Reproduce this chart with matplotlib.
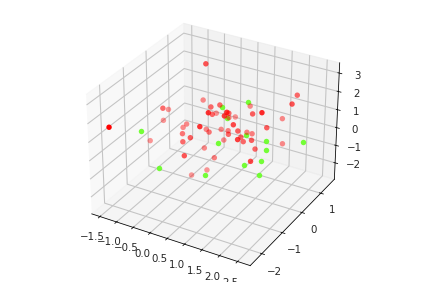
import matplotlib
matplotlib.use("Agg")
import matplotlib.pyplot as plt

red_x = [-0.16,-0.37,-1.07,-1.57,-1.60,-1.37,-1.62,-0.88,-0.99,-0.62,-0.06,-0.48,0.92,-0.28,0.18,1.16,-0.34,
         2.67,2.75,1.02,0.62,0.36,0.40,-0.10,1.61,1.42,0.88,0.58,0.47,1.73,2.33,1.95,1.49,2.13,
         0.17,0.56,0.87,1.32,1.11,1.26,1.23,1.79,0.25,1.30,1.71,1.97,1.64,0.15,-0.05,1.98,-0.42,-0.20]
red_y = [0.30,0.50,-0.30,0.70,0.50,-2.20,-0.10,0.50,0.50,-0.10,-0.60,-0.30,-1.70,0.50,-0.10,-1.70,0.50,
         -0.10,-0.50,0.50,-0.30,-0.30,-0.30,0.70,-1.60,-1.40,-0.30,0.20,0.70,-0.60,-1.20,0.50,-1.10,-0.60,
         0.50,0.20,-0.30,-0.60,0.20,0.20,-0.30,-1.40,0.50,-0.30,-0.60,0.50,-0.30,0.20,-0.90,-1.10,0.00,0.40]
red_z = [3.34,1.07,1.02,-0.27,-0.72,1.68,-1.30,-0.55,-0.80,-0.36,0.22,-0.54,2.44,-0.53,0.16,3.29,-1.63,
         3.45,3.41,1.45,2.07,1.83,1.45,0.28,3.45,2.97,1.76,0.88,0.37,2.46,3.42,1.25,2.25,1.94,
         -0.29,0.14,0.61,1.33,0.35,0.35,0.65,1.93,-0.85,0.44,1.04,-0.12,0.22,-1.61,-0.47,0.57,-2.72,-2.72]
red_alpha = [.75,.5,.65,.45,.45,1.0,.45,.5,.5,.6,.7,.65,.9,.5,.6,.9,.5,
             .65,.75,.5,.65,.65,.65,.45,.9,.85,.65,.55,.45,.7,.95,.5,.8,.7,
             .5,.55,.65,.7,.55,.55,.65,.85,.5,.65,.7,.5,.65,.55,.75,.8,.45,.45]

green_x = [-1.61,1.31,0.55,0.70,1.26,0.45,1.83,2.71,1.85,1.69,1.22,-1.36,0.04,1.65]
green_y = [-0.50,-0.10,-0.10,-0.10,-0.10,-0.10,-0.10,0.20,-0.10,-0.10,-0.10,-0.10,-0.10,-0.10]
green_z = [-0.33,2.41,1.73,1.20,0.57,-0.32,0.58,0.67,0.06,-0.63,-1.11,-2.74,-2.36,-1.42]

x_ticks = [-1.5, -1.0, -0.5, 0.0, 0.5, 1.0, 1.5, 2.0, 2.5]
y_ticks = [-2, -1, 0, 1]
z_ticks = [-2, -1, 0, 1, 2, 3]

fig = plt.figure(figsize=(6, 4), dpi=70.5)
ax = fig.add_axes([0, -0.005, 1, 1], projection="3d")
red_colors = [(1, 0, 0, a if a == 1.0 else a * 0.88) for a in red_alpha]
ax.scatter(red_x, red_y, red_z, c=red_colors, s=31, linewidths=0, depthshade=False)
ax.scatter(green_x, green_y, green_z, c="#66ff22", alpha=0.9, s=31, linewidths=0, depthshade=False)
ax.set_xlim(-1.75, 2.85)
ax.set_ylim(-2.55, 1.75)
ax.set_zlim(-2.95, 3.55)
ax.set_xticks(x_ticks)
ax.set_yticks(y_ticks)
ax.set_zticks(z_ticks)
ax.tick_params(labelsize=10.5, labelcolor="#262626")
for axis in (ax.xaxis, ax.yaxis, ax.zaxis):
    axis._axinfo["grid"].update(color="#c4c4c4", linewidth=1.1)
fig.savefig("out.png")
